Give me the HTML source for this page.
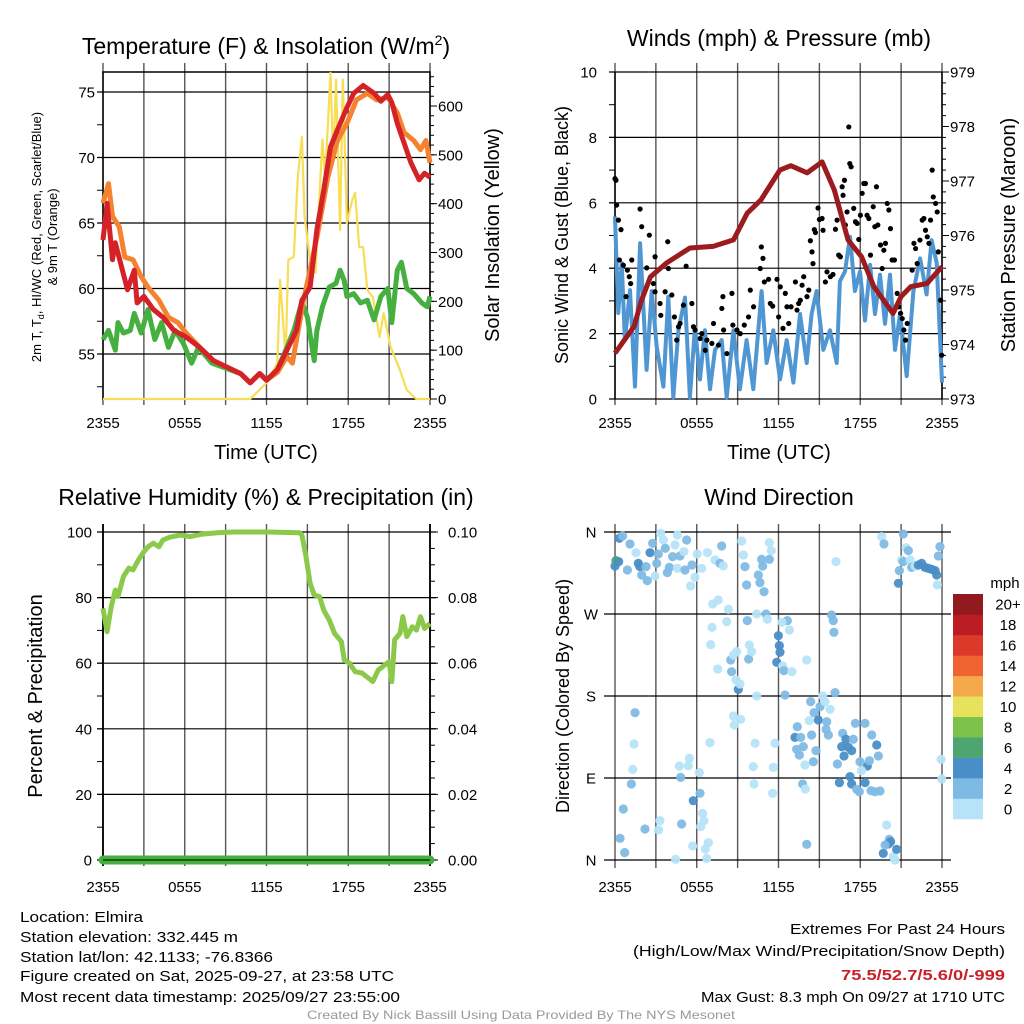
<!DOCTYPE html>
<html><head><meta charset="utf-8">
<style>
html,body{margin:0;padding:0;background:#fff;}
svg{display:block;font-family:"Liberation Sans",Arial,sans-serif;}
</style></head>
<body>
<svg id="fig" width="1024" height="1024" viewBox="0 0 1024 1024" xmlns="http://www.w3.org/2000/svg">
<rect x="0" y="0" width="1024" height="1024" fill="#fff"/>
<g id="p1"></g>
<g id="p2"></g>
<g id="p3"></g>
<g id="p4"></g>

<text x="266" y="54" font-size="23" text-anchor="middle">Temperature (F) &amp; Insolation (W/m<tspan font-size="14" dy="-9">2</tspan><tspan dy="9">)</tspan></text>
<text x="779" y="46" font-size="23" text-anchor="middle">Winds (mph) &amp; Pressure (mb)</text>
<text x="266" y="505" font-size="23" text-anchor="middle">Relative Humidity (%) &amp; Precipitation (in)</text>
<text x="779" y="505" font-size="23" text-anchor="middle">Wind Direction</text>

<text font-size="13" text-anchor="middle" transform="translate(41,237) rotate(-90)">2m T, T<tspan font-size="9" dy="3">d</tspan><tspan dy="-3">, HI/WC (Red, Green, Scarlet/Blue)</tspan></text>
<text font-size="13" text-anchor="middle" transform="translate(57,237) rotate(-90)">&amp; 9m T (Orange)</text>
<text font-size="20" text-anchor="middle" transform="translate(499,235) rotate(-90)">Solar Insolation (Yellow)</text>
<text font-size="18" text-anchor="middle" transform="translate(568,235) rotate(-90)">Sonic Wind &amp; Gust (Blue, Black)</text>
<text font-size="20" text-anchor="middle" transform="translate(1015,235) rotate(-90)">Station Pressure (Maroon)</text>
<text font-size="20" text-anchor="middle" transform="translate(42,696) rotate(-90)">Percent &amp; Precipitation</text>
<text font-size="18" text-anchor="middle" transform="translate(569,696) rotate(-90)">Direction (Colored By Speed)</text>
<text x="266" y="459" font-size="20" text-anchor="middle">Time (UTC)</text>
<text x="779" y="459" font-size="20" text-anchor="middle">Time (UTC)</text>

<g font-size="15">
<text x="20" y="922" textLength="123" lengthAdjust="spacingAndGlyphs">Location: Elmira</text>
<text x="20" y="942" textLength="218" lengthAdjust="spacingAndGlyphs">Station elevation: 332.445 m</text>
<text x="20" y="962" textLength="253" lengthAdjust="spacingAndGlyphs">Station lat/lon: 42.1133; -76.8366</text>
<text x="20" y="981" textLength="374" lengthAdjust="spacingAndGlyphs">Figure created on Sat, 2025-09-27, at 23:58 UTC</text>
<text x="20" y="1002" textLength="380" lengthAdjust="spacingAndGlyphs">Most recent data timestamp: 2025/09/27 23:55:00</text>
</g>
<g font-size="15">
<text x="790" y="934" textLength="215" lengthAdjust="spacingAndGlyphs">Extremes For Past 24 Hours</text>
<text x="633" y="956" textLength="372" lengthAdjust="spacingAndGlyphs">(High/Low/Max Wind/Precipitation/Snow Depth)</text>
<text x="841" y="980" font-weight="bold" fill="#c8202a" textLength="164" lengthAdjust="spacingAndGlyphs">75.5/52.7/5.6/0/-999</text>
<text x="701" y="1002" textLength="304" lengthAdjust="spacingAndGlyphs">Max Gust: 8.3 mph On 09/27 at 1710 UTC</text>
</g>
<text x="307" y="1019" font-size="12" fill="#999" textLength="428" lengthAdjust="spacingAndGlyphs">Created By Nick Bassill Using Data Provided By The NYS Mesonet</text>
</svg>

<script>
// ---------- data (time in hours since 2355 UTC) ----------
const timeTickHours = [0, 6, 12, 18, 24];
const timeTickLabels = ["2355", "0555", "1155", "1755", "2355"];

const tempTicks = [55, 60, 65, 70, 75];
const insolTicks = [0, 100, 200, 300, 400, 500, 600];

const redT = [0,0.3,0.7,0.9,1.3,1.8,2.3,2.5,3.0,3.7,4.4,5.2,6.1,7.1,8.1,9.1,10.1,10.8,11.5,12.0,12.8,13.5,14.2,14.6,15.2,15.7,16.2,16.7,17.2,17.9,18.4,19.1,19.9,20.4,20.9,21.2,21.6,22.1,22.6,23.2,23.6,24];
const redV = [63.7,66.5,62.2,63.5,61.9,59.9,61.4,58.9,59.4,58.4,57.8,56.8,56.3,55.5,54.5,54.0,53.5,52.8,53.5,53.0,53.8,55.3,56.8,59.1,60.1,64.5,67.5,70.8,72.1,73.8,74.9,75.5,74.9,74.3,74.8,74.2,72.6,71.1,69.6,68.3,68.8,68.5];
const orangeT = [0,0.4,0.7,1.2,1.6,2.2,2.8,3.3,4.1,4.8,5.5,6.1,7.1,8.1,9.1,10.1,10.8,11.5,12.0,12.8,13.5,13.9,14.7,15.7,16.5,17.2,17.9,18.6,19.4,20.1,20.9,21.6,22.1,22.8,23.3,23.7,24];
const orangeV = [66.5,68.0,65.5,64.7,62.4,62.2,60.9,60.1,59.1,57.8,57.4,56.6,55.5,54.5,54.0,53.5,52.8,53.5,53.0,53.6,54.8,54.3,59.0,63.9,68.5,71.3,72.6,74.4,74.9,74.4,74.6,73.4,71.9,71.3,70.6,71.3,69.6];
const greenT = [0,0.4,0.9,1.1,1.5,2.0,2.3,2.8,3.3,3.8,4.3,4.8,5.3,5.9,6.5,7.0,8.0,8.8,10.1,10.8,11.5,12.0,12.8,13.5,14.0,14.6,15.0,15.5,15.7,16.1,16.6,17.1,17.4,17.7,17.9,18.4,18.9,19.4,19.9,20.4,20.9,21.2,21.6,21.9,22.3,22.8,23.4,23.8,24];
const greenV = [56.1,56.8,55.3,57.4,56.6,56.8,58.1,56.6,58.4,56.1,57.4,55.5,56.8,55.8,54.3,55.5,54.3,54.0,53.5,52.8,53.5,53.0,53.8,55.5,56.8,59.0,57.8,54.5,56.8,58.6,60.1,60.4,61.4,60.6,59.4,59.6,58.9,59.1,57.6,59.4,60.0,57.4,61.4,62.0,60.0,59.6,58.9,58.6,59.4];
const insolT = [0,10.8,12.0,12.8,13.0,13.4,13.6,14.0,14.3,14.6,14.8,15.2,15.6,16.1,16.3,16.7,16.9,17.1,17.4,17.6,17.9,18.3,18.5,18.8,19.1,19.4,19.8,20.3,20.6,21.1,21.8,22.3,23.0,24];
const insolV = [0,0,33,74,244,86,285,291,455,537,373,285,258,531,449,668,483,654,346,654,360,408,422,311,311,223,209,127,176,107,59,18,0,0];

const windTicks = [0, 2, 4, 6, 8, 10];
const presTicks = [973, 974, 975, 976, 977, 978, 979];
const windT = [0,0.24,0.49,0.73,1.1,1.47,1.84,2.32,2.69,3.06,3.55,3.91,4.28,4.65,5.14,5.5,5.87,6.24,6.6,6.97,7.34,7.83,8.2,8.69,9.17,9.66,10.15,10.76,11.13,11.62,12.11,12.6,13.09,13.58,14.07,14.43,14.8,15.29,15.78,16.27,16.51,16.88,17.25,17.61,17.98,18.35,18.72,19.08,19.45,19.82,20.18,20.55,20.92,21.41,21.9,22.39,22.87,23.24,23.61,24];
const windV = [5.58,2.63,4.16,1.8,3.33,0.38,4.76,0.89,3.3,1.6,0.38,3.13,0.05,2.1,3.1,0.05,2.2,0.6,2.1,0.3,1.5,1.8,0.05,2.1,0.3,1.8,0.3,3.3,1.1,2.1,0.6,1.8,0.5,2.6,1.1,2.6,3.3,1.5,2.1,1.1,3.6,3.9,4.96,3.3,3.9,2.4,4.1,2.6,3.8,2.3,3.8,1.5,2.6,0.7,3.3,4.3,3.2,4.86,4.16,0.5];
const presT = [0,1.4,1.9,2.6,3.8,5.5,7.2,8.7,9.7,10.7,12.1,12.9,14.1,15.2,16.1,17.1,18.1,19.0,20.4,21.0,21.7,22.9,24];
const presV = [973.84,974.33,974.78,975.24,975.5,975.77,975.8,975.92,976.41,976.65,977.2,977.28,977.15,977.35,976.83,975.92,975.61,975.06,974.57,974.88,975.06,975.12,975.43];
const gustT = [0,0.07,0.12,0.25,0.44,0.32,0.61,0.91,1.05,1.23,0.81,1.15,1.84,1.96,2.33,2.52,2.82,2.94,2.94,3.31,3.36,3.68,3.87,3.92,4.17,4.36,4.53,4.66,4.78,5.02,5.22,5.64,5.76,5.88,6.25,6.37,6.62,6.74,7.11,7.23,7.6,7.84,7.92,7.97,8.21,8.58,8.65,8.95,9.19,9.49,9.8,9.93,10.17,10.66,10.74,10.86,10.96,11.27,11.4,11.57,11.89,12.01,12.13,12.33,12.5,12.62,12.75,12.92,13.24,13.36,13.48,13.6,13.73,13.85,14.09,14.22,14.34,14.46,14.53,14.63,14.71,14.9,15.0,15.2,15.27,15.44,15.56,15.81,16.0,16.18,16.3,16.42,16.54,16.67,16.74,16.84,16.91,17.03,17.16,17.23,17.33,17.52,17.65,17.77,17.89,18.01,18.14,18.26,18.38,18.5,18.63,18.75,18.95,19.07,19.19,19.29,19.49,19.61,19.73,19.85,19.98,20.1,20.22,20.34,20.51,20.71,20.83,20.96,21.08,21.2,21.32,21.45,21.81,21.94,22.06,22.18,22.38,22.55,22.67,22.79,22.92,23.04,23.16,23.28,23.36,23.53,23.65,23.73,23.9,23.98];
const gustV = [6.74,6.69,5.93,5.47,5.18,4.25,4.09,3.94,3.74,4.25,3.13,3.53,5.81,5.27,4.01,5.01,3.53,4.35,3.28,2.92,2.56,3.28,4.81,3.99,3.18,2.51,1.8,2.21,2.31,2.87,4.06,2.92,2.21,2.11,1.85,2.0,1.49,1.8,1.7,2.31,1.65,2.77,3.13,2.11,1.39,3.23,2.26,2.11,2.0,2.26,2.51,3.33,2.82,3.99,4.65,4.3,3.58,3.66,2.92,2.84,3.66,2.51,3.43,2.16,3.23,2.82,2.31,2.82,3.58,2.72,2.92,3.02,3.48,3.74,3.13,3.33,4.84,4.5,4.14,5.18,5.09,5.84,5.49,5.52,5.16,3.58,3.89,3.74,3.81,5.19,5.47,4.4,4.35,6.49,6.23,6.69,5.32,5.72,8.32,7.2,7.1,5.83,5.42,5.37,4.88,5.62,6.29,6.59,6.59,5.62,5.52,4.4,5.88,5.27,6.49,5.32,4.71,3.99,4.55,4.76,5.98,5.78,5.21,4.25,4.25,3.23,2.82,2.62,2.46,2.11,1.8,2.31,3.94,4.76,4.6,4.14,4.86,5.47,5.52,5.16,4.96,4.76,5.47,7.0,6.18,5.98,5.72,4.5,3.02,1.34];

const rhTicks = [0, 20, 40, 60, 80, 100];
const precipTickLabels = ["0.00", "0.02", "0.04", "0.06", "0.08", "0.10"];
const rhT = [0,0.3,0.6,0.9,1.1,1.5,1.9,2.2,2.6,3.0,3.3,3.7,4.1,4.4,4.9,5.7,6.4,7.2,8.4,9.6,12.1,14.4,14.6,14.9,15.2,15.5,15.9,16.2,16.6,17.0,17.5,17.7,18.1,18.5,19.0,19.5,19.8,20.2,20.7,21.0,21.2,21.4,21.8,22.0,22.3,22.7,23.0,23.3,23.6,24];
const rhV = [76.7,69.6,77.2,82.3,80.3,86.4,89,88.4,91.5,94,95.5,96.6,95.5,97.6,98.4,99.1,98.6,99.3,99.8,100,100,99.8,99.1,92.5,84.4,80.8,80.3,76.2,73.2,69.1,66.6,61,60,57.4,57,55.4,54.4,57.9,59.5,60.5,54.4,67.1,69.1,74.2,68.1,71.1,70.1,74.2,70.6,72.1];
const precipT = [0, 24];
const precipV = [0, 0];

const dirTicks = [0, 90, 180, 270, 360];
const dirTickLabels = ["N", "E", "S", "W", "N"];
const dirT = [0,0.07,0.32,0.56,0.27,0.91,1.10,1.54,1.71,1.83,1.96,2.28,2.37,2.57,2.76,2.94,3.06,3.18,3.35,3.55,3.69,3.84,3.99,4.23,4.40,4.58,4.58,4.77,5.06,5.14,5.26,5.55,5.65,5.87,6.04,6.36,6.78,7.17,7.34,7.58,7.71,7.83,7.95,8.32,8.20,7.12,7.02,7.54,8.49,8.56,8.69,8.93,8.88,9.05,9.17,9.30,9.42,9.54,9.66,9.71,9.86,9.81,10.03,10.40,10.40,10.52,10.64,10.76,10.84,10.94,11.08,11.18,11.33,11.33,11.47,11.99,12.06,12.11,11.87,12.31,12.40,12.48,12.65,12.80,12.99,12.26,14.07,14.36,14.61,14.92,15.05,15.24,15.41,15.54,15.78,15.49,15.66,15.90,16.02,16.07,16.15,16.22,13.38,13.21,13.63,13.33,13.53,13.82,14.26,14.43,14.75,14.56,13.94,16.71,16.95,16.64,17.13,16.81,17.37,17.49,17.64,18.35,18.84,19.21,19.33,18.52,17.98,18.10,18.67,16.32,16.47,17.25,17.37,18.35,17.74,17.93,18.79,19.08,19.45,13.77,13.97,10.15,10.20,11.62,11.57,11.74,10.28,8.69,8.76,9.22,6.97,6.19,5.46,5.38,4.72,4.82,6.24,5.75,6.43,6.53,6.29,6.85,6.63,6.73,5.70,4.89,4.45,3.30,3.20,2.20,1.47,1.39,1.30,1.20,0.61,0.37,0.71,14.07,19.94,20.13,20.06,20.23,19.69,20.43,20.67,20.55,19.82,19.57,19.74,21.16,21.36,21.53,21.04,20.87,21.16,21.65,21.77,22.02,22.26,22.51,22.75,23.00,23.24,23.49,23.61,20.80,23.66,23.73,23.85,23.93,23.98];
const dirV = [322.7,328.6,353.1,355.6,327.5,318.3,346.9,337.3,325.6,322.0,312.8,322.0,306.6,337.3,347.6,311.7,325.6,335.9,358.6,351.2,342.1,315.4,321.2,333.0,345.8,356.7,320.1,333.7,338.4,318.3,351.2,300.8,323.8,310.3,335.9,320.1,337.3,281.0,329.3,285.4,325.6,344.7,322.7,275.1,261.6,255.4,236.4,209.7,219.5,206.7,225.0,228.7,197.6,187.3,193.2,350.1,334.8,322.0,301.9,262.7,236.0,220.6,228.7,270.0,180.0,312.8,304.4,330.0,322.7,294.5,270.0,264.2,330.0,348.3,339.5,246.2,235.3,228.0,217.0,213.0,207.8,181.1,262.7,252.5,206.7,260.9,219.5,173.8,161.7,153.7,168.3,180.0,173.8,151.8,165.4,143.4,137.2,268.9,262.7,249.9,183.7,327.5,146.3,134.6,134.6,121.5,115.2,124.4,153.0,137.2,120.0,107.9,104.3,139.0,132.5,124.4,123.7,114.2,120.0,132.5,150.0,150.0,137.2,126.2,114.2,103.2,107.9,98.1,109.0,105.4,84.9,91.5,83.4,84.9,77.6,75.0,76.1,75.0,75.7,83.4,77.9,102.5,83.4,101.7,73.2,128.1,128.1,158.1,148.2,154.4,128.8,95.9,111.6,103.5,103.2,90.7,73.2,65.1,51.2,43.2,36.6,19.0,12.1,1.8,15.4,39.5,0.7,43.2,33.0,34.0,161.7,127.3,99.5,83.4,56.0,23.8,8.1,17.2,38.4,22.7,17.6,20.1,7.3,3.7,11.7,0.0,16.5,354.9,346.9,357.8,342.8,339.5,329.3,317.6,327.5,329.3,321.2,322.7,323.8,325.6,321.2,320.1,319.0,317.6,312.8,303.7,301.9,333.7,344.0,110.5,88.9];
const dirSpeed = [5,7,5,3,5,3,3,1,5,5,3,3,3,5,3,1,3,3,1,1,3,3,3,3,1,1,1,3,1,3,3,1,3,1,1,1,1,1,1,1,3,3,1,1,1,1,1,1,3,3,1,1,1,5,1,1,1,3,3,3,1,3,1,1,1,3,3,3,3,3,3,1,3,1,1,5,5,5,5,1,3,3,3,1,1,1,1,3,3,5,3,1,1,3,1,3,3,3,3,3,3,1,3,5,3,3,3,3,1,3,3,3,1,3,5,5,5,5,5,3,3,3,3,5,3,5,3,1,3,3,5,5,5,5,3,3,3,3,3,3,1,1,1,1,1,1,1,1,1,1,1,1,1,1,1,3,3,5,1,1,1,1,1,1,1,3,1,1,1,3,3,1,1,3,3,3,3,3,1,3,5,5,5,1,5,1,3,1,3,3,1,3,1,3,3,1,3,1,5,5,5,5,5,5,5,5,1,3,3,1,1,1];

const speedBinLabels = ["0","2","4","6","8","10","12","14","16","18","20+"];
const speedBinColors = ["#b6e3f8","#7fbae4","#4a8ec7","#4da66f","#7cc24b","#e6e25c","#f6a94a","#ef6430","#dc392b","#bc1d25","#921a1e"];

// ---------- helpers ----------
const NS = "http://www.w3.org/2000/svg";
function mk(parent, tag, attrs){ const e=document.createElementNS(NS,tag); for(const k in attrs) e.setAttribute(k,attrs[k]); parent.appendChild(e); return e; }
function xScale(x0){ return t => x0 + t*327/24; }
function lin(d0,d1,r0,r1){ return v => r0 + (v-d0)*(r1-r0)/(d1-d0); }
function pathD(xs,ys,fx,fy){ return xs.map((t,i)=>(i?"L":"M")+fx(t).toFixed(1)+","+fy(ys[i]).toFixed(1)).join(""); }
function vGrid(g,x0,ya,yb){
  for(let h=0;h<=24;h+=3){
    const x=xScale(x0)(h);
    const el=mk(g,"line",{x1:x,x2:x,y1:ya,y2:yb,stroke:"#555","stroke-width":1.4});
    
    
  }
}
function xLabels(g,x0,y){
  timeTickHours.forEach((h,i)=>{
    const el=mk(g,"text",{x:xScale(x0)(h),y:y,"font-size":15,"text-anchor":"middle"});
    el.textContent=timeTickLabels[i];
    
    
  });
}
function hGrid(g,vals,fy,xa,xb,labX,anchor,labels){
  vals.forEach((v,i)=>{
    const y=fy(v);
    const l=mk(g,"line",{x1:xa,x2:xb,y1:y,y2:y,stroke:"#000","stroke-width":1.2});
    
    
    const t=mk(g,"text",{x:labX,y:y+5.5,"font-size":15,"text-anchor":anchor});
    t.textContent=labels?labels[i]:String(v);
    
    
  });
}
function ticks(g,vals,fy,x,len){
  vals.forEach(v=>{
    const y=fy(v);
    const l=mk(g,"line",{x1:x,x2:x+len,y1:y,y2:y,stroke:"#000","stroke-width":1});
    
    
  });
}
function range(a,b,s){ const r=[]; for(let v=a;v<=b+1e-9;v+=s) r.push(+v.toFixed(4)); return r; }

// ---------- panel 1: temperature ----------
(function(){
  const g=document.getElementById("p1");
  const fx=xScale(103);
  const fT=lin(75,55,92,354);
  const fI=lin(0,600,399,106);
  vGrid(g,103,63,405);
  hGrid(g,tempTicks,fT,97,430,95,"end");
  ticks(g,range(52.5,75,2.5),fT,97,6);
  insolTicks.forEach(v=>{
    const t=mk(g,"text",{x:438,y:fI(v)+5.5,"font-size":15});
    t.textContent=String(v);
    
    
  });
  ticks(g,range(0,660,20),fI,430,4);
  ticks(g,insolTicks,fI,430,7);
  const box=mk(g,"rect",{x:103,y:72,width:327,height:327,fill:"none",stroke:"#000","stroke-width":1.5});
  
  
  const ins=mk(g,"path",{d:pathD(insolT,insolV,fx,fI),fill:"none",stroke:"#f7de55","stroke-width":2.2,"stroke-linejoin":"round"});
  
  
  const gr=mk(g,"path",{d:pathD(greenT,greenV,fx,fT),fill:"none",stroke:"#45b040","stroke-width":5,"stroke-linejoin":"round"});
  
  
  const or=mk(g,"path",{d:pathD(orangeT,orangeV,fx,fT),fill:"none",stroke:"#f5822e","stroke-width":5,"stroke-linejoin":"round"});
  
  
  const rd=mk(g,"path",{d:pathD(redT,redV,fx,fT),fill:"none",stroke:"#d42228","stroke-width":5,"stroke-linejoin":"round"});
  
  
  xLabels(g,103,428);
})();

// ---------- panel 2: winds ----------
(function(){
  const g=document.getElementById("p2");
  const fx=xScale(615);
  const fW=lin(0,10,399,72);
  const fP=lin(973,979,399,72);
  vGrid(g,615,63,405);
  hGrid(g,windTicks,fW,609,942,597,"end");
  ticks(g,range(0,10,1),fW,609,6);
  presTicks.forEach(v=>{
    const t=mk(g,"text",{x:950,y:fP(v)+5.5,"font-size":15});
    t.textContent=String(v);
    
    
  });
  ticks(g,range(973,979,0.2),fP,942,4);
  ticks(g,presTicks,fP,942,7);
  const ax=mk(g,"line",{x1:615,x2:615,y1:72,y2:399,stroke:"#000","stroke-width":1.5});
  
  
  const ax2=mk(g,"line",{x1:942,x2:942,y1:72,y2:399,stroke:"#000","stroke-width":1.5});
  
  
  const w=mk(g,"path",{d:pathD(windT,windV,fx,fW),fill:"none",stroke:"#4f96d2","stroke-width":4,"stroke-linejoin":"round"});
  
  
  gustT.forEach((t,i)=>{
    const c=mk(g,"circle",{cx:fx(t),cy:fW(gustV[i]),r:2.6,fill:"#000"});
    
    
  });
  const p=mk(g,"path",{d:pathD(presT,presV,fx,fP),fill:"none",stroke:"#9b1b1e","stroke-width":5,"stroke-linejoin":"round"});
  
  
  xLabels(g,615,428);
})();

// ---------- panel 3: humidity ----------
(function(){
  const g=document.getElementById("p3");
  const fx=xScale(103);
  const fR=lin(0,100,860,532);
  vGrid(g,103,524,866);
  hGrid(g,rhTicks,fR,97,436,92,"end");
  ticks(g,range(0,100,10),fR,97,6);
  rhTicks.forEach((v,i)=>{
    const t=mk(g,"text",{x:448,y:fR(v)+5.5,"font-size":15});
    t.textContent=precipTickLabels[i];
    
    
  });
  ticks(g,range(0,100,5),fR,430,5);
  ticks(g,rhTicks,fR,430,8);
  const a1=mk(g,"line",{x1:103,x2:103,y1:524,y2:866,stroke:"#000","stroke-width":1.8});
  
  
  const a2=mk(g,"line",{x1:430,x2:430,y1:524,y2:866,stroke:"#000","stroke-width":1.8});
  
  
  const fPr=lin(0,0.1,860,532);
  const pr=mk(g,"path",{d:pathD(precipT,precipV,fx,fPr),fill:"none",stroke:"#45b040","stroke-width":9,"stroke-linecap":"round"});
  
  
  const bl=mk(g,"line",{x1:103,x2:430,y1:860,y2:860,stroke:"#000","stroke-width":1});
  
  
  const rh=mk(g,"path",{d:pathD(rhT,rhV,fx,fR),fill:"none",stroke:"#8bc94a","stroke-width":5,"stroke-linejoin":"round"});
  
  
  xLabels(g,103,892);
})();

// ---------- panel 4: wind direction ----------
(function(){
  const g=document.getElementById("p4");
  const fx=xScale(615);
  const fD=lin(0,360,860,532);
  vGrid(g,615,524,868);
  hGrid(g,dirTicks,fD,604,951,591,"middle",dirTickLabels);
  function color(s){ return speedBinColors[Math.min(10,Math.floor(s/2))]; }
  dirT.forEach((t,i)=>{
    const c=mk(g,"circle",{cx:fx(t),cy:fD(dirV[i]),r:4.6,fill:color(dirSpeed[i]),"fill-opacity":0.95});
    
    
  });
  const h=225/11;
  speedBinColors.forEach((col,i)=>{
    const y=819-(i+1)*h;
    const r=mk(g,"rect",{x:953,y:y,width:30,height:h+0.3,fill:col});
    
    
    const t=mk(g,"text",{x:1008,y:y+h/2+5.5,"font-size":15,"text-anchor":"middle"});
    t.textContent=speedBinLabels[i];
    
    
  });
  const u=mk(g,"text",{x:1005,y:588,"font-size":15,"text-anchor":"middle"});
  u.textContent="mph";
  
  
  xLabels(g,615,892);
})();
</script>
</body></html>
